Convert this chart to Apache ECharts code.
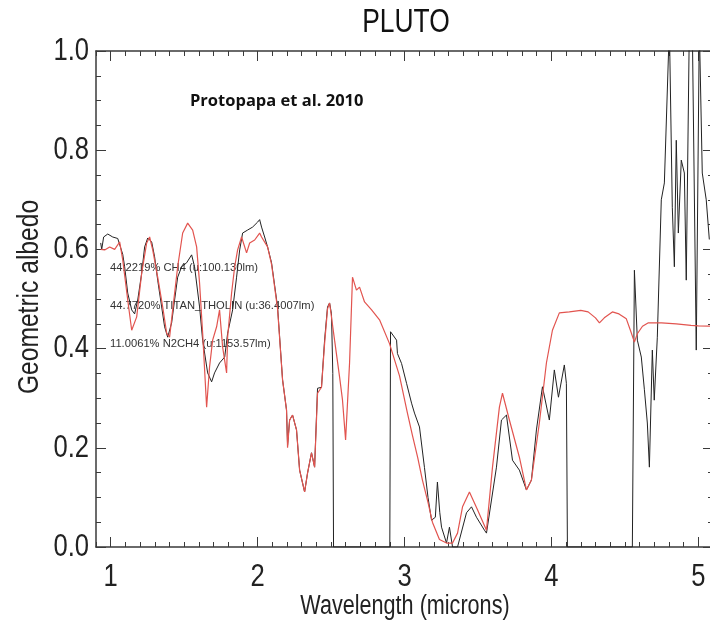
<!DOCTYPE html>
<html>
<head>
<meta charset="utf-8">
<script src="https://cdn.jsdelivr.net/npm/echarts@6/dist/echarts.min.js"></script>
<style>
  html, body { margin: 0; padding: 0; background: #fff; }
  #chart { width: 710px; height: 627px; }
</style>
</head>
<body>
<div id="chart"></div>
<script>
// Pluto near-infrared spectrum (geometric albedo vs wavelength) with a three-component model fit.

// Observed spectrum: wavelength in microns
const obsWavelength = [
  0.932, 0.939, 0.952, 0.980, 1.014, 1.048, 1.061, 1.082, 1.095, 1.116,
  1.143, 1.163, 1.184, 1.211, 1.231, 1.252, 1.279, 1.299, 1.320, 1.347,
  1.367, 1.388, 1.415, 1.435, 1.456, 1.483, 1.517, 1.551, 1.571, 1.605,
  1.626, 1.660, 1.687, 1.707, 1.741, 1.776, 1.796, 1.830, 1.857, 1.878,
  1.898, 1.932, 1.966, 2.000, 2.014, 2.027, 2.048, 2.068, 2.095, 2.136,
  2.170, 2.197, 2.204, 2.218, 2.238, 2.265, 2.286, 2.320, 2.340, 2.367,
  2.388, 2.408, 2.435, 2.456, 2.476, 2.490, 2.503, 2.512, 2.517, 2.900,
  2.905, 2.912, 2.946, 2.952, 2.980, 3.014, 3.048, 3.068, 3.102, 3.136,
  3.160, 3.184, 3.210, 3.224, 3.240, 3.252, 3.286, 3.306, 3.327, 3.361,
  3.422, 3.456, 3.490, 3.544, 3.558, 3.626, 3.660, 3.694, 3.735, 3.782,
  3.830, 3.864, 3.898, 3.939, 3.986, 4.020, 4.048, 4.088, 4.102, 4.109,
  4.551, 4.565, 4.585, 4.612, 4.633, 4.653, 4.667, 4.687, 4.700, 4.721,
  4.748, 4.769, 4.803, 4.823, 4.837, 4.850, 4.864, 4.884, 4.905, 4.918,
  4.939, 4.959, 4.986, 5.007, 5.027, 5.054, 5.075
];
// Observed spectrum: geometric albedo
const obsAlbedo = [
  0.613, 0.600, 0.625, 0.631, 0.625, 0.622, 0.619, 0.590, 0.565, 0.512,
  0.478, 0.470, 0.498, 0.552, 0.605, 0.623, 0.615, 0.585, 0.538, 0.484,
  0.444, 0.423, 0.452, 0.498, 0.544, 0.565, 0.573, 0.589, 0.565, 0.484,
  0.417, 0.351, 0.333, 0.351, 0.371, 0.383, 0.431, 0.478, 0.544, 0.599,
  0.633, 0.639, 0.645, 0.655, 0.660, 0.645, 0.625, 0.605, 0.573, 0.484,
  0.337, 0.276, 0.205, 0.256, 0.266, 0.236, 0.155, 0.111, 0.149, 0.190,
  0.161, 0.320, 0.322, 0.417, 0.484, 0.492, 0.470, 0.350, 0.000, 0.000,
  0.434, 0.430, 0.417, 0.390, 0.370, 0.330, 0.290, 0.270, 0.242, 0.160,
  0.100, 0.054, 0.060, 0.131, 0.070, 0.040, 0.008, 0.040, 0.000, 0.000,
  0.069, 0.081, 0.060, 0.034, 0.028, 0.161, 0.256, 0.266, 0.175, 0.155,
  0.115, 0.135, 0.236, 0.323, 0.256, 0.357, 0.302, 0.367, 0.330, 0.000,
  0.000, 0.558, 0.417, 0.383, 0.317, 0.250, 0.161, 0.397, 0.296, 0.423,
  0.700, 0.734, 1.050, 0.685, 0.565, 0.820, 0.633, 0.780, 0.754, 0.538,
  1.050, 1.050, 0.397, 1.050, 0.754, 0.700, 0.620
];

// Model fit: wavelength in microns
const modelWavelength = [
  0.932, 0.959, 0.993, 1.027, 1.061, 1.082, 1.116, 1.143, 1.177, 1.211,
  1.245, 1.265, 1.286, 1.320, 1.354, 1.381, 1.401, 1.422, 1.456, 1.490,
  1.524, 1.558, 1.585, 1.605, 1.626, 1.653, 1.673, 1.694, 1.721, 1.741,
  1.762, 1.789, 1.796, 1.823, 1.844, 1.864, 1.891, 1.925, 1.946, 1.980,
  2.014, 2.027, 2.068, 2.095, 2.136, 2.170, 2.197, 2.204, 2.218, 2.238,
  2.265, 2.286, 2.320, 2.340, 2.367, 2.388, 2.408, 2.435, 2.456, 2.476,
  2.490, 2.524, 2.558, 2.578, 2.599, 2.626, 2.646, 2.673, 2.694, 2.728,
  2.776, 2.830, 2.898, 2.966, 3.020, 3.054, 3.090, 3.122, 3.160, 3.190,
  3.238, 3.286, 3.327, 3.361, 3.395, 3.442, 3.497, 3.558, 3.599, 3.646,
  3.667, 3.714, 3.782, 3.830, 3.864, 3.918, 3.966, 4.007, 4.054, 4.122,
  4.200, 4.250, 4.300, 4.327, 4.360, 4.415, 4.460, 4.510, 4.540, 4.565,
  4.585, 4.620, 4.660, 4.750, 4.850, 4.950, 5.000, 5.100
];
// Model fit: geometric albedo
const modelAlbedo = [
  0.600, 0.599, 0.605, 0.600, 0.615, 0.579, 0.498, 0.437, 0.464, 0.552,
  0.613, 0.625, 0.599, 0.544, 0.484, 0.431, 0.423, 0.478, 0.565, 0.633,
  0.653, 0.639, 0.605, 0.532, 0.431, 0.282, 0.363, 0.417, 0.444, 0.478,
  0.403, 0.351, 0.423, 0.512, 0.565, 0.599, 0.625, 0.593, 0.613, 0.619,
  0.633, 0.625, 0.605, 0.570, 0.480, 0.337, 0.276, 0.200, 0.256, 0.266,
  0.236, 0.155, 0.111, 0.149, 0.190, 0.161, 0.310, 0.322, 0.410, 0.480,
  0.492, 0.417, 0.343, 0.296, 0.216, 0.371, 0.544, 0.518, 0.524, 0.494,
  0.478, 0.458, 0.410, 0.345, 0.270, 0.225, 0.180, 0.135, 0.090, 0.050,
  0.015, 0.008, 0.008, 0.028, 0.081, 0.111, 0.075, 0.034, 0.161, 0.282,
  0.310, 0.256, 0.181, 0.115, 0.135, 0.250, 0.371, 0.437, 0.472, 0.474,
  0.477, 0.474, 0.462, 0.452, 0.462, 0.474, 0.470, 0.460, 0.435, 0.413,
  0.430, 0.445, 0.452, 0.452, 0.450, 0.447, 0.446, 0.445
];

const xMajorTicks = [1, 2, 3, 4, 5];
const yMajorTicks = [0, 0.2, 0.4, 0.6, 0.8, 1.0];
const fitComponents = [
  '44.2219% CH4 (u:100.130lm)',
  '44.7720% TITAN_THOLIN (u:36.4007lm)',
  '11.0061% N2CH4 (u:1153.57lm)'
];
const titleText = 'PLUTO';
const sourceText = 'Protopapa et al. 2010';
const xName = 'Wavelength (microns)';
const yName = 'Geometric albedo';

// Labels use a regular sans face squeezed horizontally to get the condensed look.
const LABEL_FONT = "'Liberation Sans', Arial, sans-serif";
const SQUEEZE = 0.8;
const FRAME = '#3a3a3a';

const zip = (xs, ys) => xs.map((x, i) => [x, ys[i]]);

const xBase = { type: 'value', min: 0.9, max: 5.1, splitLine: { show: false }, axisLabel: { show: false } };
const yBase = { type: 'value', min: 0, max: 1, interval: 0.2, splitLine: { show: false }, axisLabel: { show: false } };
const tickStyle = { color: FRAME, width: 1 };
const lineStyle = { color: FRAME, width: 1.5 };

const chart = echarts.init(document.getElementById('chart'), null, { renderer: 'canvas' });
chart.setOption({
  animation: false,
  backgroundColor: '#fff',
  grid: {
    left: 96, top: 51, right: -3, bottom: 80,
    containLabel: false, outerBoundsMode: 'none'
  },
  xAxis: [
    Object.assign({}, xBase, {
      position: 'bottom', interval: 0.1,
      axisLine: { show: true, lineStyle },
      axisTick: { show: true, inside: true, length: 5, lineStyle: tickStyle }
    }),
    Object.assign({}, xBase, {
      position: 'bottom',
      axisLine: { show: false },
      axisTick: { show: true, inside: true, length: 10, customValues: xMajorTicks, lineStyle: tickStyle }
    }),
    Object.assign({}, xBase, {
      position: 'top', interval: 0.1,
      axisLine: { show: true, lineStyle },
      axisTick: { show: true, inside: true, length: 5, lineStyle: tickStyle }
    }),
    Object.assign({}, xBase, {
      position: 'top',
      axisLine: { show: false },
      axisTick: { show: true, inside: true, length: 10, customValues: xMajorTicks, lineStyle: tickStyle }
    })
  ],
  yAxis: [
    Object.assign({}, yBase, {
      position: 'left',
      axisLine: { show: true, lineStyle },
      axisTick: { show: true, inside: true, length: 10, lineStyle: tickStyle },
      minorTick: { show: true, splitNumber: 4, length: 5, lineStyle: tickStyle }
    }),
    Object.assign({}, yBase, {
      position: 'right',
      axisLine: { show: true, lineStyle },
      axisTick: { show: true, inside: true, length: 10, lineStyle: tickStyle },
      minorTick: { show: true, splitNumber: 4, length: 5, lineStyle: tickStyle }
    })
  ],
  series: [
    {
      name: 'model', type: 'line', xAxisIndex: 0, yAxisIndex: 0,
      data: zip(modelWavelength, modelAlbedo),
      showSymbol: false, clip: true, z: 3,
      lineStyle: { color: '#e2544f', width: 1.2 }
    },
    {
      name: 'observed', type: 'line', xAxisIndex: 0, yAxisIndex: 0,
      data: zip(obsWavelength, obsAlbedo),
      showSymbol: false, clip: true, z: 2,
      lineStyle: { color: '#222', width: 1 }
    }
  ]
});

// Tick labels placed through the axis scales
const xLabelGraphics = xMajorTicks.map(v => ({
  type: 'text',
  x: chart.convertToPixel({ xAxisIndex: 0 }, v), y: 577,
  scaleX: SQUEEZE,
  style: { text: String(v), font: `32px ${LABEL_FONT}`, fill: '#222', align: 'center', verticalAlign: 'middle' }
}));
const yLabelGraphics = yMajorTicks.map(v => ({
  type: 'text',
  x: 89, y: chart.convertToPixel({ yAxisIndex: 0 }, v),
  scaleX: SQUEEZE,
  style: { text: v.toFixed(1), font: `32px ${LABEL_FONT}`, fill: '#222', align: 'right', verticalAlign: 'middle' }
}));

chart.setOption({
  graphic: [
    ...xLabelGraphics,
    ...yLabelGraphics,
    {
      type: 'text', x: 406, y: 23, scaleX: SQUEEZE,
      style: { text: titleText, font: `33px ${LABEL_FONT}`, fill: '#111', align: 'center', verticalAlign: 'middle' }
    },
    {
      type: 'text', x: 405, y: 607, scaleX: SQUEEZE,
      style: { text: xName, font: `27px ${LABEL_FONT}`, fill: '#222', align: 'center', verticalAlign: 'middle' }
    },
    {
      type: 'text', x: 30, y: 297, rotation: Math.PI / 2, scaleX: 0.82,
      style: { text: yName, font: `30px ${LABEL_FONT}`, fill: '#222', align: 'center', verticalAlign: 'middle' }
    },
    {
      type: 'text', x: 190, y: 101,
      style: { text: sourceText, font: "bold 16.5px 'Open Sans', sans-serif", fill: '#111', align: 'left', verticalAlign: 'middle' }
    },
    ...fitComponents.map((t, i) => ({
      type: 'text', x: 110, y: 268 + i * 38,
      style: { text: t, font: `11.2px ${LABEL_FONT}`, fill: '#333', align: 'left', verticalAlign: 'middle' }
    }))
  ]
});
</script>
</body>
</html>
